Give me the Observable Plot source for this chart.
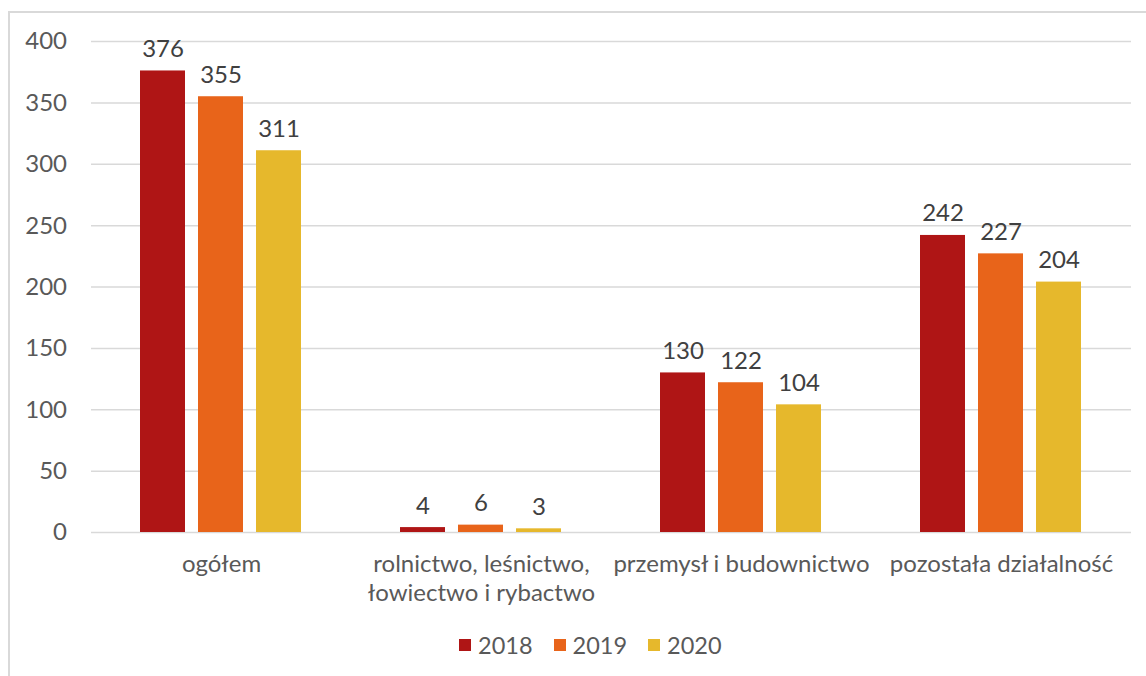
<!DOCTYPE html>
<html>
<head>
<meta charset="utf-8">
<script src="https://cdn.jsdelivr.net/npm/d3@7"></script>
<script src="https://cdn.jsdelivr.net/npm/@observablehq/plot@0.6"></script>
<style>
  html, body { margin: 0; padding: 0; background: #fff; }
  body { width: 1146px; height: 676px; position: relative; overflow: hidden; font-family: Lato, "Noto Sans", sans-serif; }
  #frame { position: absolute; left: 8px; top: 11px; width: 1300px; height: 800px; border: 2px solid #d9d9d9; box-sizing: border-box; }
  #chart { position: absolute; left: 0; top: 0; }
  #legend { position: absolute; left: 459px; top: 631px; display: flex; align-items: center; font-size: 23.5px; color: #595959; }
  #legend .item { display: flex; align-items: center; margin-right: 21px; }
  #legend .sw { width: 12px; height: 12px; margin-right: 7px; }
</style>
</head>
<body>
<div id="frame"></div>
<div id="chart"></div>
<div id="legend"></div>
<script>
const categories = ["ogółem", "rolnictwo, leśnictwo,\nłowiectwo i rybactwo", "przemysł i budownictwo", "pozostała działalność"];
const years = ["2018", "2019", "2020"];
const values2018 = [376, 4, 130, 242];
const values2019 = [355, 6, 122, 227];
const values2020 = [311, 3, 104, 204];
const colors = ["#af1515", "#e8641a", "#e6b82c"];
const yTicks = [0, 50, 100, 150, 200, 250, 300, 350, 400];

const series = [values2018, values2019, values2020];
const data = [];
categories.forEach((c, i) => years.forEach((y, j) => data.push({category: c, year: y, value: series[j][i]})));
const catData = categories.map(c => ({category: c}));

const plot = Plot.plot({
  width: 1146,
  height: 620,
  marginLeft: 90,
  marginRight: 14,
  marginTop: 41,
  marginBottom: 88,
  style: {fontFamily: "Lato, 'Noto Sans', sans-serif", background: "transparent"},
  fx: {domain: categories, padding: 0, axis: null},
  x: {domain: years, paddingInner: 0.224, paddingOuter: 0.85, axis: null},
  y: {domain: [0, 400], ticks: yTicks, axis: null},
  color: {domain: years, range: colors},
  marks: [
    Plot.ruleY(yTicks, {y: d => d, stroke: "#d9d9d9", strokeWidth: 1.5}),
    Plot.barY(data, {fx: "category", x: "year", y: "value", fill: "year"}),
    Plot.text(data, {fx: "category", x: "year", y: "value", text: d => String(d.value), lineAnchor: "bottom", dy: -14, fontSize: 24, fill: "#404040"}),
    Plot.text(catData, {fx: "category", text: "category", frameAnchor: "bottom", lineAnchor: "top", dy: 19, fontSize: 24, fill: "#595959", lineHeight: 1.2})
  ]
});
document.getElementById("chart").appendChild(plot);

// y-axis tick labels, drawn with the plot's own y scale
const yScale = plot.scale("y");
const svg = d3.select(plot);
svg.append("g")
  .attr("font-size", 24).attr("fill", "#595959").attr("text-anchor", "end")
  .selectAll("text").data(yTicks).join("text")
  .attr("x", 67).attr("y", d => yScale.apply(d)).attr("dy", "0.35em")
  .text(d => d);

const legend = document.getElementById("legend");
years.forEach((y, i) => {
  const item = document.createElement("div");
  item.className = "item";
  item.innerHTML = `<div class="sw" style="background:${colors[i]}"></div><span>${y}</span>`;
  legend.appendChild(item);
});
</script>
</body>
</html>
